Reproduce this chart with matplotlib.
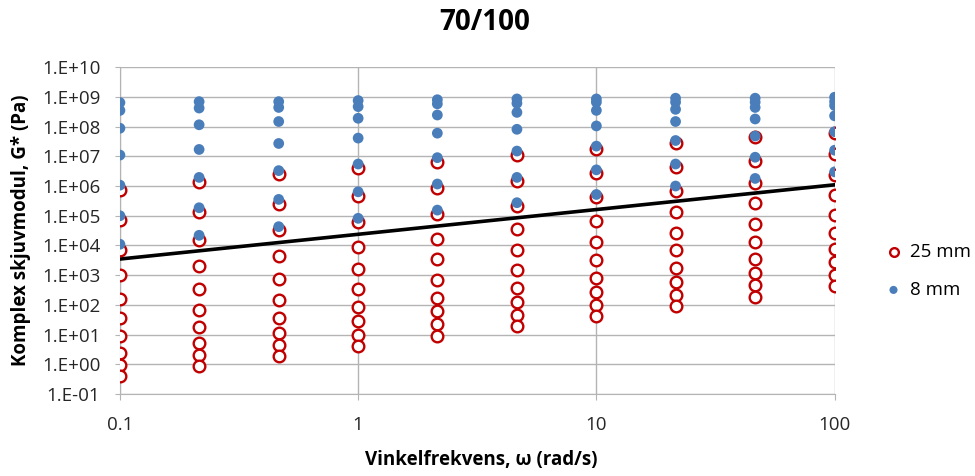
import numpy as np
import matplotlib.pyplot as plt
from matplotlib.ticker import FixedLocator, FuncFormatter, NullLocator

# Angular frequencies of the sweep (rad/s)
omega = [0.1, 0.215, 0.464, 1, 2.15, 4.64, 10, 21.5, 46.4, 100]

# Complex shear modulus G* (Pa), 25 mm plate, one list per frequency
g_25mm = [
    [7.3e5, 7.1e4, 7.3e3, 1.05e3, 160, 35, 8.8, 2.5, 0.92, 0.41],
    [1.4e6, 1.36e5, 1.5e4, 2.0e3, 355, 70, 18, 5.3, 2.1, 0.86],
    [2.45e6, 2.4e5, 3.3e4, 4.4e3, 760, 151, 37, 11.4, 4.6, 1.86],
    [4.0e6, 4.6e5, 6.3e4, 9.0e3, 1.6e3, 355, 85, 29, 10, 4.2],
    [6.6e6, 8.3e5, 1.15e5, 1.7e4, 3.5e3, 710, 176, 63, 22, 9.0],
    [1.1e7, 1.5e6, 2.2e5, 3.5e4, 6.9e3, 1.5e3, 375, 125, 47, 19.6],
    [1.7e7, 2.7e6, 4.4e5, 6.8e4, 1.3e4, 3.2e3, 810, 275, 98, 42],
    [2.75e7, 4.3e6, 6.9e5, 1.36e5, 2.7e4, 6.9e3, 1.77e3, 600, 212, 90],
    [4.6e7, 7.0e6, 1.23e6, 2.6e5, 5.3e4, 1.3e4, 3.6e3, 1.2e3, 460, 185],
    [6.3e7, 1.2e7, 2.35e6, 5.0e5, 1.05e5, 2.7e4, 7.6e3, 2.7e3, 1.0e3, 430],
]

# Complex shear modulus G* (Pa), 8 mm plate
g_8mm = [
    [6.4e8, 3.5e8, 8.8e7, 1.1e7, 1.07e6, 1.0e5, 1.1e4],
    [6.9e8, 4.2e8, 1.15e8, 1.7e7, 1.95e6, 1.86e5, 2.2e4],
    [6.9e8, 4.4e8, 1.48e8, 2.7e7, 3.3e6, 3.55e5, 4.3e4],
    [7.5e8, 4.7e8, 1.9e8, 4.1e7, 5.5e6, 6.4e5, 8.2e4],
    [8.0e8, 5.8e8, 2.45e8, 6.0e7, 9.0e6, 1.17e6, 1.55e5],
    [8.5e8, 6.1e8, 3.0e8, 8.1e7, 1.5e7, 1.95e6, 2.75e5],
    [8.5e8, 6.6e8, 3.5e8, 1.05e8, 2.2e7, 3.5e6, 5.2e5],
    [9.0e8, 6.6e8, 3.8e8, 1.48e8, 3.4e7, 5.5e6, 1.0e6],
    [9.0e8, 6.6e8, 4.4e8, 1.8e8, 4.8e7, 9.3e6, 1.8e6],
    [9.7e8, 6.9e8, 5.1e8, 2.3e8, 6.7e7, 1.6e7, 3.0e6],
]

# Reference line (power law) end points
line_x = [0.1, 100]
line_y = [3.5e3, 1.1e6]

x_ticks = [0.1, 1, 10, 100]
y_ticks = [10.0 ** k for k in range(-1, 11)]

plt.rcParams['font.family'] = ['Open Sans', 'DejaVu Sans']

fig = plt.figure(figsize=(9.75, 4.76), dpi=100)
ax = fig.add_axes([0.123, 0.172, 0.733, 0.687])

red = '#C00000'
blue = '#4A7EBB'
grid_col = '#B4B4B4'

x25 = np.repeat(omega, [len(v) for v in g_25mm])
y25 = np.concatenate(g_25mm)
x8 = np.repeat(omega, [len(v) for v in g_8mm])
y8 = np.concatenate(g_8mm)

ax.plot(line_x, line_y, color='black', lw=2.6, zorder=3)
ax.scatter(x25, y25, s=70, facecolors='white', edgecolors=red, linewidths=1.7,
           label='25 mm', zorder=4)
ax.scatter(x8, y8, s=60, color=blue, edgecolors='none', label='8 mm', zorder=5)

ax.set_xscale('log')
ax.set_yscale('log')
ax.set_xlim(0.1, 100)
ax.set_ylim(1e-1, 1e10)

ax.xaxis.set_major_locator(FixedLocator(x_ticks))
ax.xaxis.set_minor_locator(NullLocator())
ax.xaxis.set_major_formatter(FuncFormatter(lambda v, p: '%g' % v))
ax.yaxis.set_major_locator(FixedLocator(y_ticks))
ax.yaxis.set_minor_locator(NullLocator())


def sci_label(v, pos):
    e = int(round(np.log10(v)))
    return '1.E%s%02d' % ('+' if e >= 0 else '-', abs(e))


ax.yaxis.set_major_formatter(FuncFormatter(sci_label))

ax.grid(True, which='major', color=grid_col, lw=1.0)
ax.set_axisbelow(True)
for side in ['top', 'right']:
    ax.spines[side].set_visible(False)
for side in ['left', 'bottom']:
    ax.spines[side].set_color(grid_col)
ax.tick_params(axis='x', length=4, color=grid_col, labelsize=13.5, pad=12,
               labelcolor='#262626')
ax.tick_params(axis='y', length=3.6, color=grid_col, labelsize=13.5, pad=10.5,
               labelcolor='#262626')

fig.text(485 / 975, 1 - 22 / 476, '70/100', ha='center', va='center',
         fontsize=20, fontweight='bold')
ax.set_xlabel('Vinkelfrekvens, ω (rad/s)', fontsize=13.5, fontweight='bold')
ax.set_ylabel('Komplex skjuvmodul, G* (Pa)', fontsize=13.5, fontweight='bold')
ax.xaxis.set_label_coords(0.506, -0.172)
ax.yaxis.set_label_coords(-0.124, 0.5)

fig.legend(*ax.get_legend_handles_labels(), loc='center left',
           bbox_to_anchor=(886 / 975, 1 - 271 / 476), frameon=False,
           fontsize=13.5, markerscale=0.75, handlelength=0.8,
           handletextpad=0.5, labelspacing=1.05, borderpad=0, borderaxespad=0)

fig.savefig('out.png', dpi=100)
